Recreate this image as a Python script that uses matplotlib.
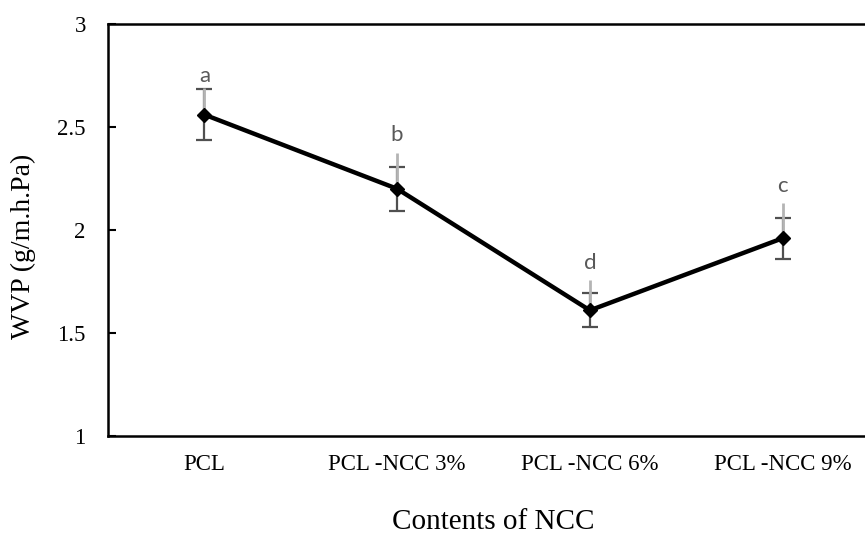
import matplotlib
matplotlib.use("Agg")
import matplotlib.pyplot as plt
import numpy as np

categories = ["PCL", "PCL -NCC 3%", "PCL -NCC 6%", "PCL -NCC 9%"]
wvp = [2.56, 2.20, 1.61, 1.96]
err = [0.125, 0.107, 0.083, 0.10]
upper_ext = [2.69, 2.376, 1.756, 2.13]
letters = ["a", "b", "d", "c"]
letter_y = [2.75, 2.46, 1.84, 2.215]
yticks = [1, 1.5, 2, 2.5, 3]
ytick_labels = ["1", "1.5", "2", "2.5", "3"]

fig = plt.figure(figsize=(8.65, 5.38), dpi=100)
ax = fig.add_axes([108/865, 1-436/538, 771/865, 412/538])
x = np.arange(len(categories))

# light gray upper lines
for xi, v, u in zip(x, wvp, upper_ext):
    ax.plot([xi, xi], [v, u], color="#b4b4b4", lw=2.0, zorder=2, solid_capstyle="butt")
ax.errorbar(x, wvp, yerr=err, fmt="none", ecolor="#505050", elinewidth=1.6,
            capsize=5.5, capthick=1.6, zorder=1)
ax.plot(x, wvp, color="black", lw=3.2, marker="D", markersize=7.5, zorder=3)

for xi, l, ly in zip(x, letters, letter_y):
    ax.text(xi, ly, l, color="#595959", fontsize=16, ha="center", va="center",
            family="Lato")

ax.set_xlim(-0.5, 3.5)
ax.set_ylim(1, 3)
ax.set_yticks(yticks)
ax.set_yticklabels(ytick_labels, family="Liberation Serif", fontsize=16.5)
ax.set_xticks(x)
ax.set_xticklabels(categories, family="Liberation Serif", fontsize=16.5)
ax.tick_params(axis="x", length=0, pad=13)
ax.tick_params(axis="y", direction="in", length=6, width=1.5, pad=16)
for s in ["left", "bottom", "top"]:
    ax.spines[s].set_linewidth(1.8)
    ax.spines[s].set_color("black")
ax.spines["right"].set_visible(False)

fig.text(493/865, 1-522/538, "Contents of NCC", family="Liberation Serif",
         fontsize=21, ha="center", va="center")
fig.text(23/865, 1-246/538, "WVP (g/m.h.Pa)", family="Liberation Serif",
         fontsize=20, ha="center", va="center", rotation=90)

fig.savefig("out.png", dpi=100)
